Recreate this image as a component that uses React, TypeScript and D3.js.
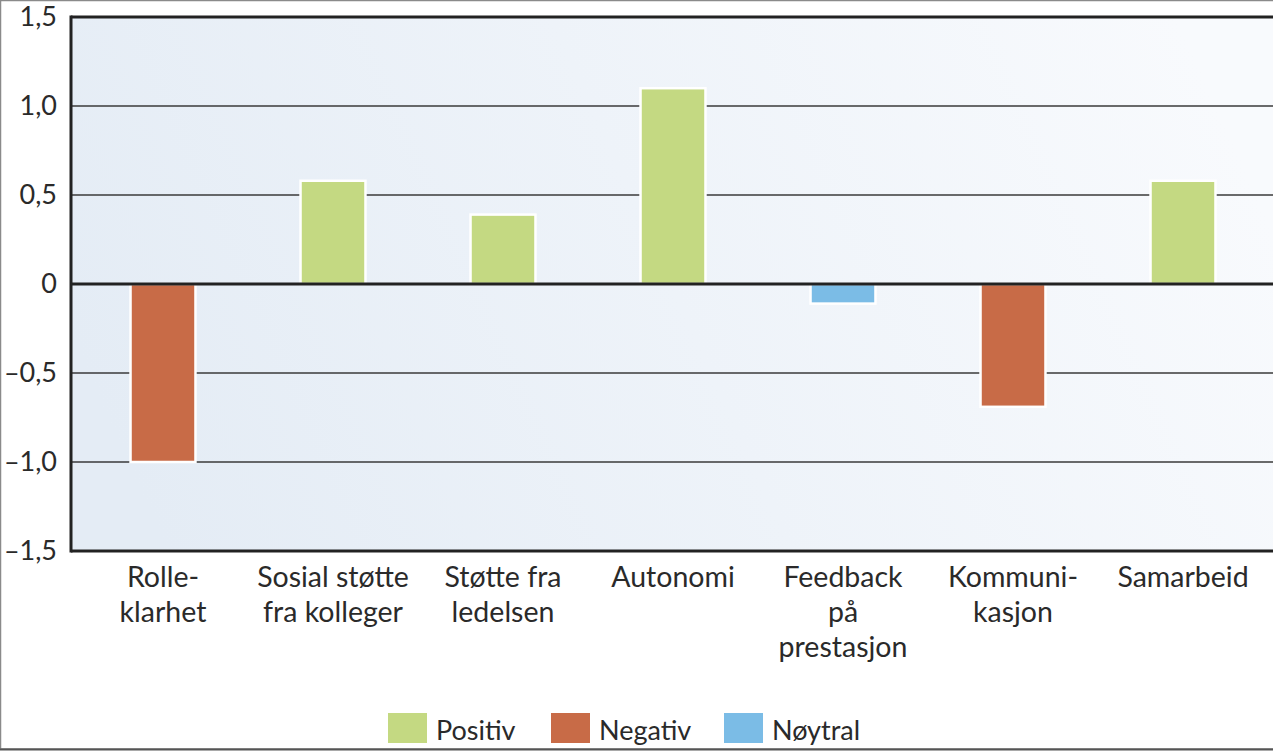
import React from "react";
import * as d3 from "d3";

const categories: string[][] = [
  ["Rolle-", "klarhet"],
  ["Sosial støtte", "fra kolleger"],
  ["Støtte fra", "ledelsen"],
  ["Autonomi"],
  ["Feedback", "på", "prestasjon"],
  ["Kommuni-", "kasjon"],
  ["Samarbeid"],
];
const values: number[] = [-1.0, 0.58, 0.39, 1.1, -0.11, -0.69, 0.58];
const kinds: string[] = ["Negativ", "Positiv", "Positiv", "Positiv", "Nøytral", "Negativ", "Positiv"];
const legendItems: string[] = ["Positiv", "Negativ", "Nøytral"];
const tickValues: number[] = [1.5, 1.0, 0.5, 0, -0.5, -1.0, -1.5];
const tickLabels: string[] = ["1,5", "1,0", "0,5", "0", "–0,5", "–1,0", "–1,5"];

const colorMap: Record<string, string> = {
  Positiv: "#c4d982",
  Negativ: "#c86b47",
  Nøytral: "#7bbce6",
};

const W = 1273;
const H = 751;
const plotLeft = 71;
const plotRight = 1273;
const plotTop = 17;
const plotBottom = 551;
const FONT = "Lato, 'Open Sans', sans-serif";

export default function App() {
  const y = d3.scaleLinear().domain([-1.5, 1.5]).range([plotBottom, plotTop]);
  const x = d3
    .scaleBand<number>()
    .domain(d3.range(categories.length))
    .range([78, 1268])
    .paddingInner(0.618)
    .paddingOuter(0.309);

  const legendX = [388, 551, 724];

  return (
    <svg
      width={W}
      height={H}
      style={{ position: "absolute", left: 0, top: 0, display: "block", background: "#fff" }}
      fontFamily={FONT}
    >
      <defs>
        <linearGradient id="bg" x1="0" y1="0.6" x2="1" y2="0.4">
          <stop offset="0" stopColor="#e4ecf5" />
          <stop offset="1" stopColor="#f8fafd" />
        </linearGradient>
      </defs>
      {/* outer frame */}
      <rect x={0.5} y={0.5} width={W + 5} height={748.5} fill="none" stroke="#8a8a8a" strokeWidth={1.5} />
      <line x1={0} x2={W} y1={749.5} y2={749.5} stroke="#555" strokeWidth={2} />

      {/* plot background */}
      <rect x={plotLeft} y={plotTop} width={plotRight - plotLeft} height={plotBottom - plotTop} fill="url(#bg)" />

      {/* gridlines */}
      {tickValues
        .filter((t) => t !== 0 && Math.abs(t) !== 1.5)
        .map((t) => (
          <line key={t} x1={plotLeft} x2={plotRight} y1={y(t)} y2={y(t)} stroke="#3a3a3a" strokeWidth={1.5} />
        ))}

      {/* bars */}
      {values.map((v, i) => (
        <rect
          key={i}
          x={x(i)}
          width={x.bandwidth()}
          y={Math.min(y(v), y(0))}
          height={Math.abs(y(v) - y(0))}
          fill={colorMap[kinds[i]]}
          stroke="#ffffff"
          strokeWidth={2.5}
        />
      ))}

      {/* zero line */}
      <line x1={plotLeft} x2={plotRight} y1={y(0)} y2={y(0)} stroke="#222" strokeWidth={3} />
      {/* borders */}
      <line x1={plotLeft} x2={plotRight} y1={plotTop} y2={plotTop} stroke="#222" strokeWidth={3} />
      <line x1={plotLeft} x2={plotRight} y1={plotBottom} y2={plotBottom} stroke="#222" strokeWidth={3} />
      <line x1={plotLeft} x2={plotLeft} y1={plotTop - 1.5} y2={plotBottom + 1.5} stroke="#222" strokeWidth={3} />

      {/* y tick labels */}
      {tickValues.map((t, i) => (
        <text key={t} x={57} y={y(t) + 9} textAnchor="end" fontSize={27} fill="#2a2a2a">
          {tickLabels[i]}
        </text>
      ))}

      {/* x labels */}
      {categories.map((lines, i) => (
        <text key={i} textAnchor="middle" fontSize={28.5} fill="#2a2a2a">
          {lines.map((l, j) => (
            <tspan key={j} x={(x(i) as number) + x.bandwidth() / 2} y={587 + j * 35}>
              {l}
            </tspan>
          ))}
        </text>
      ))}

      {/* legend */}
      {legendItems.map((k, i) => (
        <g key={k}>
          <rect x={legendX[i]} y={713} width={39} height={30} fill={colorMap[k]} />
          <text x={legendX[i] + 48} y={740} fontSize={27} fill="#2a2a2a">
            {k}
          </text>
        </g>
      ))}
    </svg>
  );
}
